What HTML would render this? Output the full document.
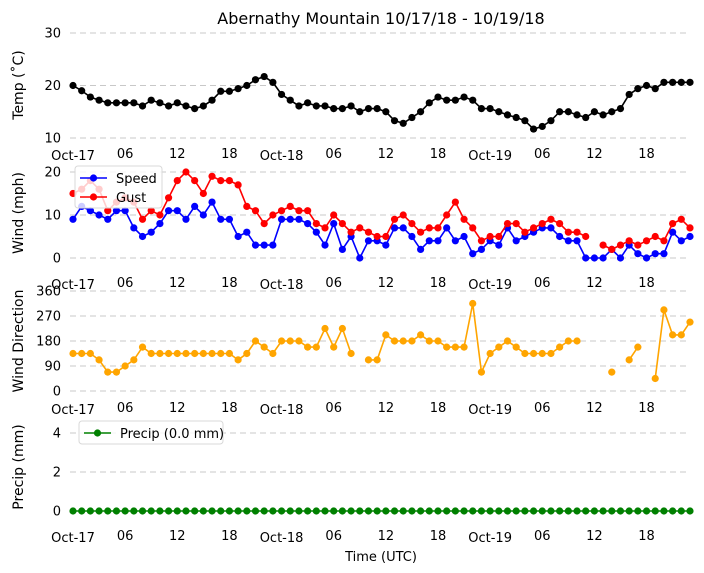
<!DOCTYPE html>
<html><head><meta charset="utf-8"><style>
html,body{margin:0;padding:0;background:#fff}
svg{display:block;font-family:"DejaVu Sans","Liberation Sans",sans-serif}
</style></head><body>
<svg id="chart" width="704" height="573" viewBox="0 0 704 573" xmlns="http://www.w3.org/2000/svg">
<text x="381" y="24" font-size="16" text-anchor="middle">Abernathy Mountain 10/17/18 - 10/19/18</text>
<text x="381" y="561" font-size="13" text-anchor="middle">Time (UTC)</text>
<g id="plots"></g>
</svg>
<script>
const hours = Array.from({length:72},(_,i)=>i);
const xTickLabels = ["Oct-17","06","12","18","Oct-18","06","12","18","Oct-19","06","12","18"];
const tempValues = [20,19,17.8,17.2,16.7,16.7,16.7,16.7,16.1,17.2,16.7,16.1,16.7,16.1,15.6,16.1,17.2,18.9,18.9,19.4,20,21.1,21.7,20.6,18.3,17.2,16.1,16.7,16.1,16.1,15.6,15.6,16.1,15,15.6,15.6,15,13.3,12.8,13.9,15,16.7,17.8,17.2,17.2,17.8,17.2,15.6,15.6,15,14.4,13.9,13.3,11.7,12.2,13.3,15,15,14.4,13.9,15,14.4,15,15.6,18.3,19.4,20,19.4,20.6,20.6,20.6,20.6];
const speedValues = [9,12,11,10,9,11,11,7,5,6,8,11,11,9,12,10,13,9,9,5,6,3,3,3,9,9,9,8,6,3,8,2,5,0,4,4,3,7,7,5,2,4,4,7,4,5,1,2,4,3,7,4,5,6,7,7,5,4,4,0,0,0,2,0,3,1,0,1,1,6,4,5];
const gustValues = [15,16,18,16,11,13,14,13,9,11,10,14,18,20,18,15,19,18,18,17,12,11,8,10,11,12,11,11,8,7,10,8,6,7,6,5,5,9,10,8,6,7,7,10,13,9,7,4,5,5,8,8,6,7,8,9,8,6,6,5,null,3,2,3,4,3,4,5,4,8,9,7];
const dirValues = [135,135,135,112,68,68,90,112,158,135,135,135,135,135,135,135,135,135,135,112,135,180,158,135,180,180,180,158,158,225,158,225,135,null,112,112,202,180,180,180,202,180,180,158,158,158,315,68,135,158,180,158,135,135,135,135,158,180,180,null,null,null,68,null,112,158,null,45,292,202,202,248];
const precipValues = new Array(72).fill(0);
const tempTicks=[10,20,30], windTicks=[0,10,20], dirTicks=[0,90,180,270,360], precipTicks=[0,2,4];

const NS="http://www.w3.org/2000/svg";
const root=document.getElementById('plots');
function el(tag,attrs,parent){const e=document.createElementNS(NS,tag);for(const k in attrs)e.setAttribute(k,attrs[k]);(parent||root).appendChild(e);return e;}
const xScale=h=>73+h*8.69;

function panel(name,ymin,ymax,ybot,ytop,ticks,xlabY,title,titleY){
  const ys=v=>ybot-(v-ymin)/(ymax-ymin)*(ybot-ytop);
  const g=el('g',{});
  
  
  ticks.forEach(t=>{
    const ln=el('line',{x1:70,x2:690,y1:ys(t),y2:ys(t),stroke:'#c8c8c8','stroke-width':1,'stroke-dasharray':'6,4'},g);
    
    
    const tx=el('text',{x:61,y:ys(t)+4.5,'font-size':13,'text-anchor':'end'},g);
    tx.textContent=t;
    
    
  });
  xTickLabels.forEach((l,i)=>{
    const isDate=l.startsWith('Oct');
    const tx=el('text',{x:xScale(i*6),y:xlabY+(isDate?2:0),'font-size':13,'text-anchor':'middle'},g);
    tx.textContent=l;
    
    
  });
  const tt=el('text',{x:0,y:0,'font-size':14,'text-anchor':'middle',transform:`translate(23,${titleY}) rotate(-90)`},g);
  tt.textContent=title;
  
  
  return {g,ys};
}
function series(p,vals,color,name){
  let d='';let pen=false;
  vals.forEach((v,i)=>{if(v===null){pen=false;return;}d+=(pen?'L':'M')+xScale(i)+','+p.ys(v);pen=true;});
  const path=el('path',{d,fill:'none',stroke:color,'stroke-width':1.6},p.g);
  
  
  vals.forEach((v,i)=>{if(v===null)return;
    const c=el('circle',{cx:xScale(i),cy:p.ys(v),r:3.6,fill:color},p.g);
    
    
  });
}
function legend(g,x,y,w,h,items,name){
  const lg=el('g',{},g);
  
  
  el('rect',{x,y,width:w,height:h,rx:3,fill:'#fff','fill-opacity':0.8,stroke:'#d8d8d8'},lg);
  items.forEach((it,i)=>{const cy=y+12+i*19;
    el('line',{x1:x+5,x2:x+32,y1:cy,y2:cy,stroke:it[1],'stroke-width':1.6},lg);
    el('circle',{cx:x+18.5,cy,r:3.6,fill:it[1]},lg);
    const t=el('text',{x:x+41,y:cy+5,'font-size':13},lg);t.textContent=it[0];
  });
}
const p1=panel('temp',10,30,138,33,tempTicks,158,'Temp (˚C)',85);
series(p1,tempValues,'#000','temp');
const p2=panel('wind',0,20,258,172,windTicks,287,'Wind (mph)',213);
series(p2,speedValues,'#0000ff','speed');
series(p2,gustValues,'#ff0000','gust');
legend(p2.g,75,166,87,42,[['Speed','#0000ff'],['Gust','#ff0000']],'wind-legend');
const p3=panel('dir',0,360,391,291,dirTicks,412,'Wind Direction',341);
series(p3,dirValues,'#ffa500','direction');
const p4=panel('precip',0,4,511,433,precipTicks,540,'Precip (mm)',467);
series(p4,precipValues,'#008000','precip');
legend(p4.g,79,421,144,23,[['Precip (0.0 mm)','#008000']],'precip-legend');
</script>
</body></html>
